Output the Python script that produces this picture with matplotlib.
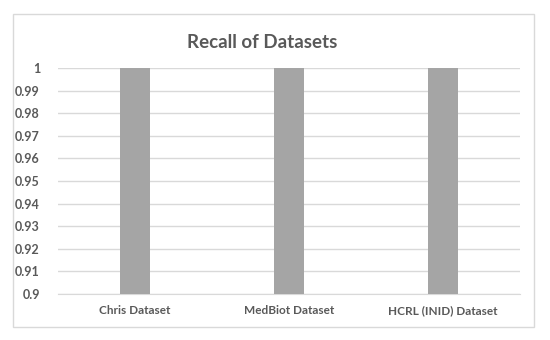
import matplotlib
matplotlib.use("Agg")
import matplotlib.pyplot as plt
from matplotlib.patches import Rectangle

categories = ["Chris Dataset", "MedBiot Dataset", "HCRL (INID) Dataset"]
recall = [1.0, 1.0, 1.0]
yticks = [0.9, 0.91, 0.92, 0.93, 0.94, 0.95, 0.96, 0.97, 0.98, 0.99, 1.0]
ytick_labels = ["0.9", "0.91", "0.92", "0.93", "0.94", "0.95", "0.96", "0.97", "0.98", "0.99", "1"]

plt.rcParams['font.family'] = ['Lato', 'DejaVu Sans']
txt = "#595959"

fig = plt.figure(figsize=(5.5, 3.4), dpi=100)
fig.patch.set_facecolor("white")
fig.patches.append(Rectangle((13/550, 13/340), 521/550, 313/340, transform=fig.transFigure,
                             fill=False, edgecolor="#D9D9D9", linewidth=1.0))

ax = fig.add_axes([58/550, 46/340, 462/550, 226/340])
x = list(range(len(categories)))
ax.bar(x, [v - 0.9 for v in recall], bottom=0.9, width=0.195, color="#A5A5A5", zorder=3)
ax.set_xlim(-0.5, len(categories) - 0.5)
ax.set_ylim(0.9, 1.0)
ax.set_yticks(yticks)
ax.set_yticklabels(ytick_labels, fontsize=9, fontweight="bold", color=txt)
ax.set_xticks(x)
ax.set_xticklabels(categories, fontsize=8.5, fontweight="bold", color=txt)
ax.tick_params(axis="both", length=0)
ax.tick_params(axis="y", pad=13)
ax.tick_params(axis="x", pad=8)
ax.grid(axis="y", color="#D9D9D9", linewidth=1.0, zorder=0)
for s in ["top", "right", "left"]:
    ax.spines[s].set_visible(False)
ax.spines["bottom"].set_color("#D9D9D9")
ax.set_facecolor("white")

fig.text(262/550, 1 - 42/340, "Recall of Datasets", ha="center", va="center",
         fontsize=13.5, fontweight="bold", color=txt)

fig.savefig("out.png", dpi=100, facecolor="white")
